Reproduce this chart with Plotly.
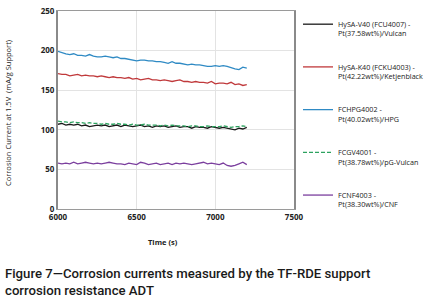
import numpy as np
import plotly.graph_objects as go

time_s = list(range(6000, 7201, 25))

hysa_v40 = [107,108,106,107,106,107,105,
            106,104,105,106,105,106,104,
            105,106,104,106,105,104,105,
            106,104,105,103,105,104,105,
            103,104,105,103,104,104,102,
            104,103,103,102,104,103,102,
            103,102,101,100,102,101,103]
hysa_k40 = [171,170,170,168,169,170,168,
            169,168,168,167,168,167,166,
            167,166,166,165,166,164,165,
            163,164,165,163,163,162,163,
            162,161,162,163,161,161,160,
            161,160,160,159,161,158,159,
            159,158,160,157,158,156,157]
fchpg = [199,197,196,195,196,194,194,
         193,195,193,192,192,193,192,
         191,192,190,190,189,188,187,
         188,188,187,187,186,186,185,
         184,186,184,184,183,182,183,
         182,182,181,180,180,181,180,
         181,180,178,177,176,179,178]
fcgv = [111,110,110,109,110,109,109,
        108,109,108,108,107,108,107,
        107,108,107,107,106,107,106,
        106,107,106,106,106,105,106,
        105,106,105,105,105,104,105,
        105,104,104,105,104,104,104,
        105,104,103,104,104,105,104]
fcnf = [58,57,58,57,59,57,58,
        59,58,57,58,57,58,59,
        58,57,57,56,58,57,56,
        59,58,56,57,58,56,57,
        58,56,58,57,58,57,56,
        57,58,59,57,58,57,56,
        58,55,54,55,57,59,56]

names = ["HySA-V40 (FCU4007) -<br>Pt(37.58wt%)/Vulcan",
         "HySA-K40 (FCKU4003) -<br>Pt(42.22wt%)/Ketjenblack",
         "FCHPG4002 -<br>Pt(40.02wt%)/HPG",
         "FCGV4001 -<br>Pt(38.78wt%)/pG-Vulcan",
         "FCNF4003 -<br>Pt(38.30wt%)/CNF"]
series = [hysa_v40, hysa_k40, fchpg, fcgv, fcnf]
colors = ["#1a1a1a", "#c0393b", "#2f8ac4", "#2ca25f", "#7b3f9e"]
dashes = ["solid", "solid", "solid", "4px,2px", "solid"]

W, H = 429, 307
L, R, T, B = 58, 135, 11, 98
PW, PH = W - L - R, H - T - B

def px(xp):
    return (xp - L) / PW

def py(yp):
    return (H - B - yp) / PH

fig = go.Figure()
for i, (n, s, c, d) in enumerate(zip(names, series, colors, dashes)):
    fig.add_trace(go.Scatter(x=time_s, y=s, mode="lines", name=n,
                             legendgroup=f"g{i}",
                             line=dict(color=c, width=1.3, dash=d)))

fig.update_layout(
    width=W, height=H,
    margin=dict(l=L, r=R, t=T, b=B, autoexpand=False),
    paper_bgcolor="white", plot_bgcolor="white",
    font=dict(family="Open Sans", size=8, color="#222"),
    showlegend=True,
    legend=dict(x=px(298), xanchor="left", y=py(13), yanchor="top",
                font=dict(size=7.2, family="Open Sans", color="#222"),
                tracegroupgap=21, itemwidth=30, valign="top",
                maxheight=300,
                bgcolor="rgba(0,0,0,0)"),
    xaxis=dict(range=[6000, 7500], tickvals=[6000, 6500, 7000, 7500],
               showgrid=True, gridcolor="#e3e3e3", gridwidth=1,
               showline=True, linecolor="#9a9a9a", linewidth=1, mirror=True,
               ticks="", zeroline=False, automargin=False,
               tickfont=dict(size=8, family="Open Sans", weight="bold", color="#222")),
    yaxis=dict(range=[0, 250], tickvals=[0, 50, 100, 150, 200, 250],
               showgrid=True, gridcolor="#e3e3e3", gridwidth=1,
               showline=True, linecolor="#8a8a8a", linewidth=2, mirror=True,
               ticks="", zeroline=False, automargin=False,
               tickfont=dict(size=8, family="Open Sans", weight="bold", color="#222")),
)

fig.add_annotation(text="Corrosion Current at 1.5V  (mA/g Support)",
                   xref="paper", yref="paper", x=px(8), y=py(113),
                   xanchor="center", yanchor="middle", textangle=-90, showarrow=False,
                   font=dict(size=7.5, family="Open Sans", color="#222"))
fig.add_annotation(text="Time (s)", xref="paper", yref="paper",
                   x=px(163), y=py(242),
                   xanchor="center", yanchor="middle", showarrow=False,
                   font=dict(size=7.5, family="Open Sans", weight="bold", color="#222"))
fig.add_annotation(text="Figure 7\u2014Corrosion currents measured by the TF-RDE support<br>corrosion resistance ADT",
                   xref="paper", yref="paper",
                   x=px(3), y=py(264),
                   xanchor="left", yanchor="top", align="left", showarrow=False,
                   font=dict(size=13.2, family="Roboto", weight=500, color="#1a1a1a"))

fig.write_html("out.html", config={"displayModeBar": False},
               post_script="document.body.style.margin='0';document.body.style.padding='0';")
